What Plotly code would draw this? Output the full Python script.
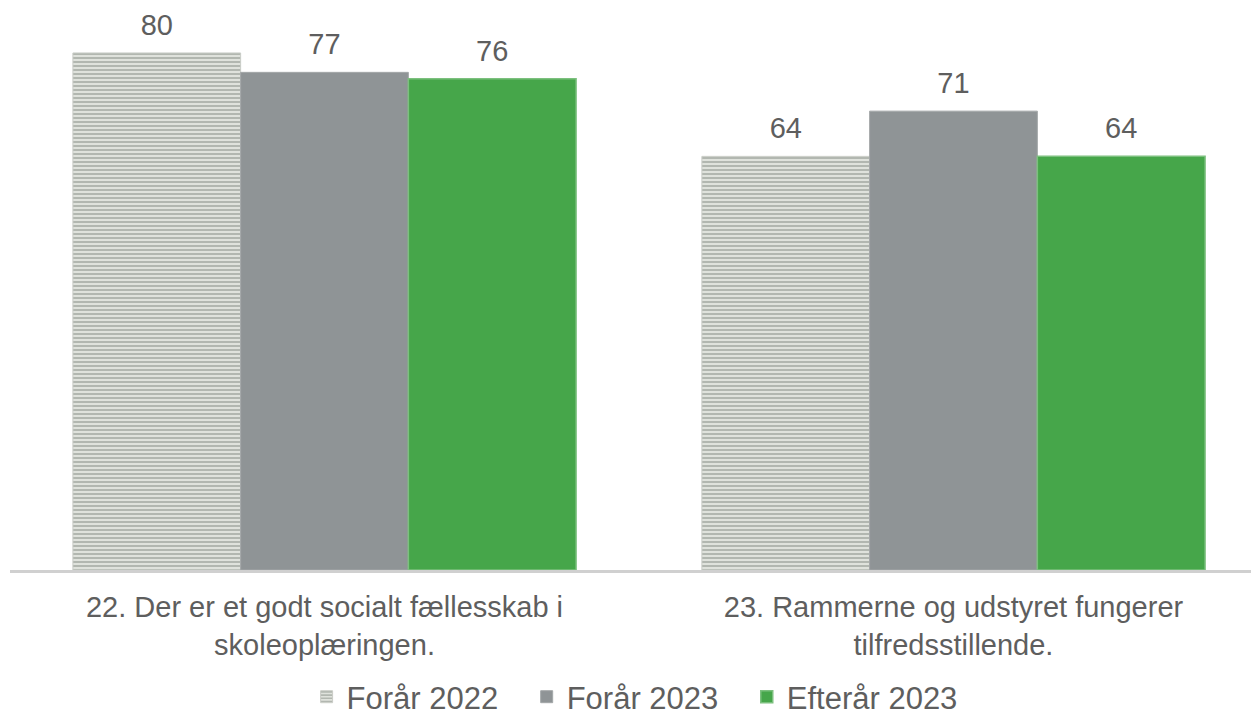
import plotly.graph_objects as go

# ── Data ──────────────────────────────────────────────────────────────────────
categories = [
    "22. Der er et godt socialt fællesskab i<br>skoleoplæringen.",
    "23. Rammerne og udstyret fungerer<br>tilfredsstillende.",
]
series_names = ["Forår 2022", "Forår 2023", "Efterår 2023"]
forar_2022 = [80, 64]
forar_2023 = [77, 71]
efterar_2023 = [76, 64]

# ── Colours ───────────────────────────────────────────────────────────────────
C_STRIPE_FG = "#868c83"
C_STRIPE_BG = "#dfe2dc"
C_GRAY = "#8f9496"
C_GREEN = "#46a64a"
C_TEXT = "#5e5e5e"
C_AXIS = "#d0d0d0"
FONT = "Liberation Sans, Arial, sans-serif"
PAD = "\u00a0\u00a0\u2009"   # extra room between legend entries

markers = [
    dict(color=C_STRIPE_BG,
         pattern=dict(shape="-", fgcolor=C_STRIPE_FG, bgcolor=C_STRIPE_BG,
                      size=4, solidity=0.5, fillmode="overlay"),
         line=dict(color="#c9ccc6", width=1)),
    dict(color=C_GRAY, line=dict(color="#a3a7a8", width=1)),
    dict(color=C_GREEN, line=dict(color="#7cc07e", width=1.5)),
]
values = [forar_2022, forar_2023, efterar_2023]

fig = go.Figure()

for i, (name, vals, mk) in enumerate(zip(series_names, values, markers)):
    fig.add_trace(go.Bar(
        name=name + PAD,
        x=categories,
        y=vals,
        marker=mk,
        offsetgroup=str(i),
        hoverinfo="skip",
    ))

# value labels, grouped like the bars, lifted by an invisible marker
for i, (name, vals) in enumerate(zip(series_names, values)):
    fig.add_trace(go.Scatter(
        x=categories,
        y=vals,
        mode="markers+text",
        text=[str(v) for v in vals],
        textposition="top center",
        textfont=dict(size=29, color=C_TEXT, family=FONT),
        marker=dict(size=16, opacity=0),
        offsetgroup=str(i),
        showlegend=False,
        cliponaxis=False,
        hovertemplate=f"<b>{name}</b><br>%{{y}}<extra></extra>",
    ))

fig.update_layout(
    width=1251,
    height=718,
    paper_bgcolor="white",
    plot_bgcolor="white",
    margin=dict(l=10, r=0, t=20, b=148, autoexpand=False),
    font=dict(family=FONT, color=C_TEXT),
    barmode="group",
    bargap=0.2,
    bargroupgap=0,
    scattermode="group",
    scattergap=0.2,
    xaxis=dict(
        range=[-0.5, 1.473],
        showline=True,
        linecolor=C_AXIS,
        linewidth=3,
        ticks="",
        ticklabelstandoff=9,
        tickfont=dict(size=29, color=C_TEXT, family=FONT),
        showgrid=False,
        automargin=False,
    ),
    yaxis=dict(
        range=[0, 85.1],
        visible=False,
        showgrid=False,
        zeroline=False,
    ),
    legend=dict(
        orientation="h",
        x=0.239,
        xanchor="left",
        y=-0.231,
        yanchor="middle",
        font=dict(size=31, color=C_TEXT, family=FONT),
        traceorder="normal",
    ),
)

# drop the browser's default body margin so the figure sits at (0, 0)
fig.write_html(
    "out.html",
    config={"displayModeBar": False},
    post_script="document.body.style.margin='0';document.body.style.overflow='hidden';",
)
